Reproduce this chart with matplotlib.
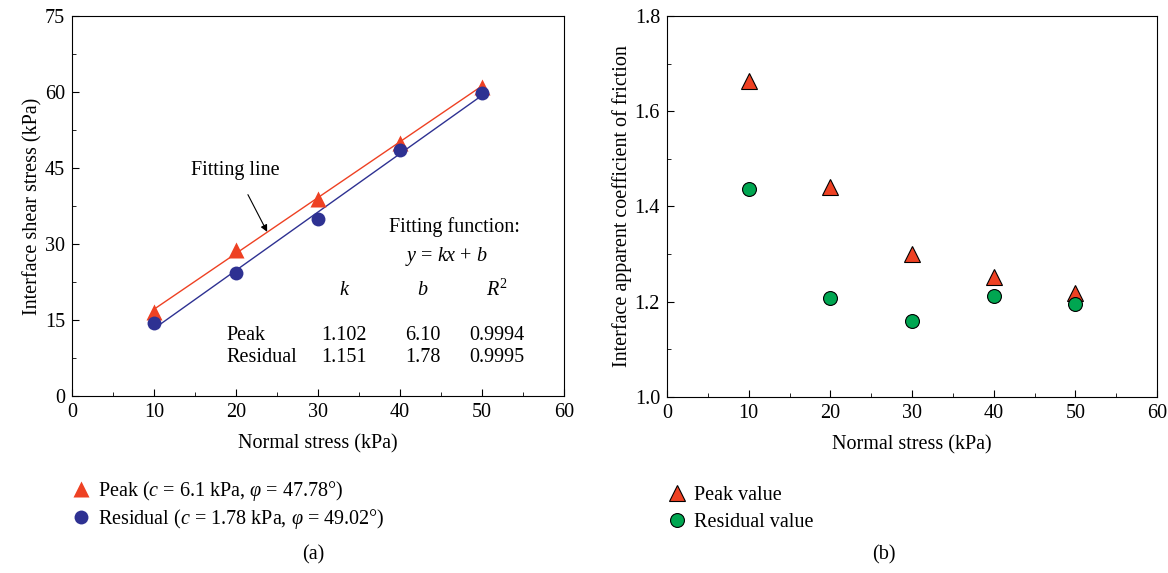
import numpy as np
import matplotlib
matplotlib.use("Agg")
from matplotlib import pyplot as plt
from matplotlib.ticker import MultipleLocator

plt.rcParams["font.family"] = ["Liberation Serif", "DejaVu Serif"]
plt.rcParams["mathtext.fontset"] = "custom"
plt.rcParams["mathtext.rm"] = "Liberation Serif"
plt.rcParams["mathtext.it"] = "Liberation Serif:italic"

FS = 14.5

# ---------------------------------------------------------------------------
# Data
# ---------------------------------------------------------------------------
normal_stress = [10, 20, 30, 40, 50]

peak_shear = [16.6, 28.8, 38.9, 50.0, 61.0]
residual_shear = [14.4, 24.3, 35.0, 48.6, 59.8]

peak_k, peak_b, peak_r2 = 1.102, 6.10, 0.9994
residual_k, residual_b, residual_r2 = 1.151, 1.78, 0.9995

peak_friction = [1.663, 1.441, 1.300, 1.251, 1.219]
residual_friction = [1.437, 1.207, 1.160, 1.212, 1.195]

RED = "#EE4123"
BLUE = "#2E3192"
GREEN = "#00A651"

fig = plt.figure(figsize=(11.68, 5.73), dpi=100)

ax1 = fig.add_axes([72 / 1168, 1 - 396 / 573, 492 / 1168, 380 / 573])
ax2 = fig.add_axes([667 / 1168, 1 - 397 / 573, 490 / 1168, 381 / 573])

# ---------------------------------------------------------------------------
# (a) shear stress vs normal stress
# ---------------------------------------------------------------------------
xs = np.array([normal_stress[0], normal_stress[-1]])
ax1.plot(xs, peak_k * xs + peak_b, color=RED, lw=1.0)
ax1.plot(xs, residual_k * xs + residual_b, color=BLUE, lw=1.0)
h_peak, = ax1.plot(normal_stress, peak_shear, ls="none", marker="^", ms=11,
                   color=RED, mec="none")
h_res, = ax1.plot(normal_stress, residual_shear, ls="none", marker="o", ms=10,
                  color=BLUE, mec="none")

ax1.set_xlim(0, 60)
ax1.set_ylim(0, 75)
ax1.xaxis.set_major_locator(MultipleLocator(10))
ax1.xaxis.set_minor_locator(MultipleLocator(5))
ax1.yaxis.set_major_locator(MultipleLocator(15))
ax1.yaxis.set_minor_locator(MultipleLocator(7.5))
ax1.set_xlabel("Normal stress (kPa)", fontsize=FS, labelpad=9)
ax1.set_ylabel("Interface shear stress (kPa)", fontsize=FS, labelpad=2)

ax1.annotate("Fitting line", xy=(23.8, 32.4), xytext=(19.9, 44.6),
             fontsize=FS, ha="center", va="center",
             arrowprops=dict(arrowstyle="-|>", color="black", lw=0.8,
                             shrinkA=10, shrinkB=0, mutation_scale=10))
ax1.text(46.6, 33.4, "Fitting function:", fontsize=FS, ha="center", va="center")
ax1.text(45.6, 27.6, r"$y$ = $kx$ + $b$", fontsize=FS, ha="center", va="center")

ax1.text(33.2, 20.9, r"$k$", fontsize=FS, ha="center", va="center")
ax1.text(42.8, 20.9, r"$b$", fontsize=FS, ha="center", va="center")
ax1.text(51.8, 20.9, r"$R^2$", fontsize=FS, ha="center", va="center")
rows = [("Peak", peak_k, peak_b, peak_r2), ("Residual", residual_k, residual_b, residual_r2)]
for (name, k, b, r2), y in zip(rows, [12.0, 7.5]):
    ax1.text(18.8, y, name, fontsize=FS, ha="left", va="center")
    ax1.text(33.2, y, f"{k:.3f}", fontsize=FS, ha="center", va="center")
    ax1.text(42.8, y, f"{b:.2f}", fontsize=FS, ha="center", va="center")
    ax1.text(51.8, y, f"{r2:.4f}", fontsize=FS, ha="center", va="center")

fig.legend([h_peak, h_res],
           [r"Peak ($c$ = 6.1 kPa, $\varphi$ = 47.78°)",
            r"Residual ($c$ = 1.78 kPa, $\varphi$ = 49.02°)"],
           loc="upper left", bbox_to_anchor=(52 / 1168, 1 - 461 / 573),
           frameon=False, fontsize=FS, handletextpad=0.3, labelspacing=0.2,
           handlelength=1.1)

# ---------------------------------------------------------------------------
# (b) apparent friction coefficient
# ---------------------------------------------------------------------------
h_pv, = ax2.plot(normal_stress, peak_friction, ls="none", marker="^", ms=11,
                 color=RED, mec="black", mew=0.8)
h_rv, = ax2.plot(normal_stress, residual_friction, ls="none", marker="o", ms=10,
                 color=GREEN, mec="black", mew=0.8)
ax2.set_xlim(0, 60)
ax2.set_ylim(1.0, 1.8)
ax2.xaxis.set_major_locator(MultipleLocator(10))
ax2.xaxis.set_minor_locator(MultipleLocator(5))
ax2.yaxis.set_major_locator(MultipleLocator(0.2))
ax2.yaxis.set_minor_locator(MultipleLocator(0.1))
ax2.yaxis.set_major_formatter(plt.FormatStrFormatter("%.1f"))
ax2.set_xlabel("Normal stress (kPa)", fontsize=FS, labelpad=9)
ax2.set_ylabel("Interface apparent coefficient of friction", fontsize=FS, labelpad=2)

fig.legend([h_pv, h_rv], ["Peak value", "Residual value"],
           loc="upper left", bbox_to_anchor=(648 / 1168, 1 - 468 / 573),
           frameon=False, fontsize=FS, handletextpad=0.3, labelspacing=0.4,
           handlelength=1.1)

for ax in (ax1, ax2):
    ax.tick_params(which="both", direction="in", labelsize=FS, pad=5)
    ax.tick_params(which="major", length=5)
    ax.tick_params(which="minor", length=3)
    for s in ax.spines.values():
        s.set_linewidth(0.8)

fig.text(313 / 1168, 1 - 555 / 573, "(a)", fontsize=FS, ha="center", va="center")
fig.text(884 / 1168, 1 - 555 / 573, "(b)", fontsize=FS, ha="center", va="center")

fig.savefig("out.png", dpi=100)
